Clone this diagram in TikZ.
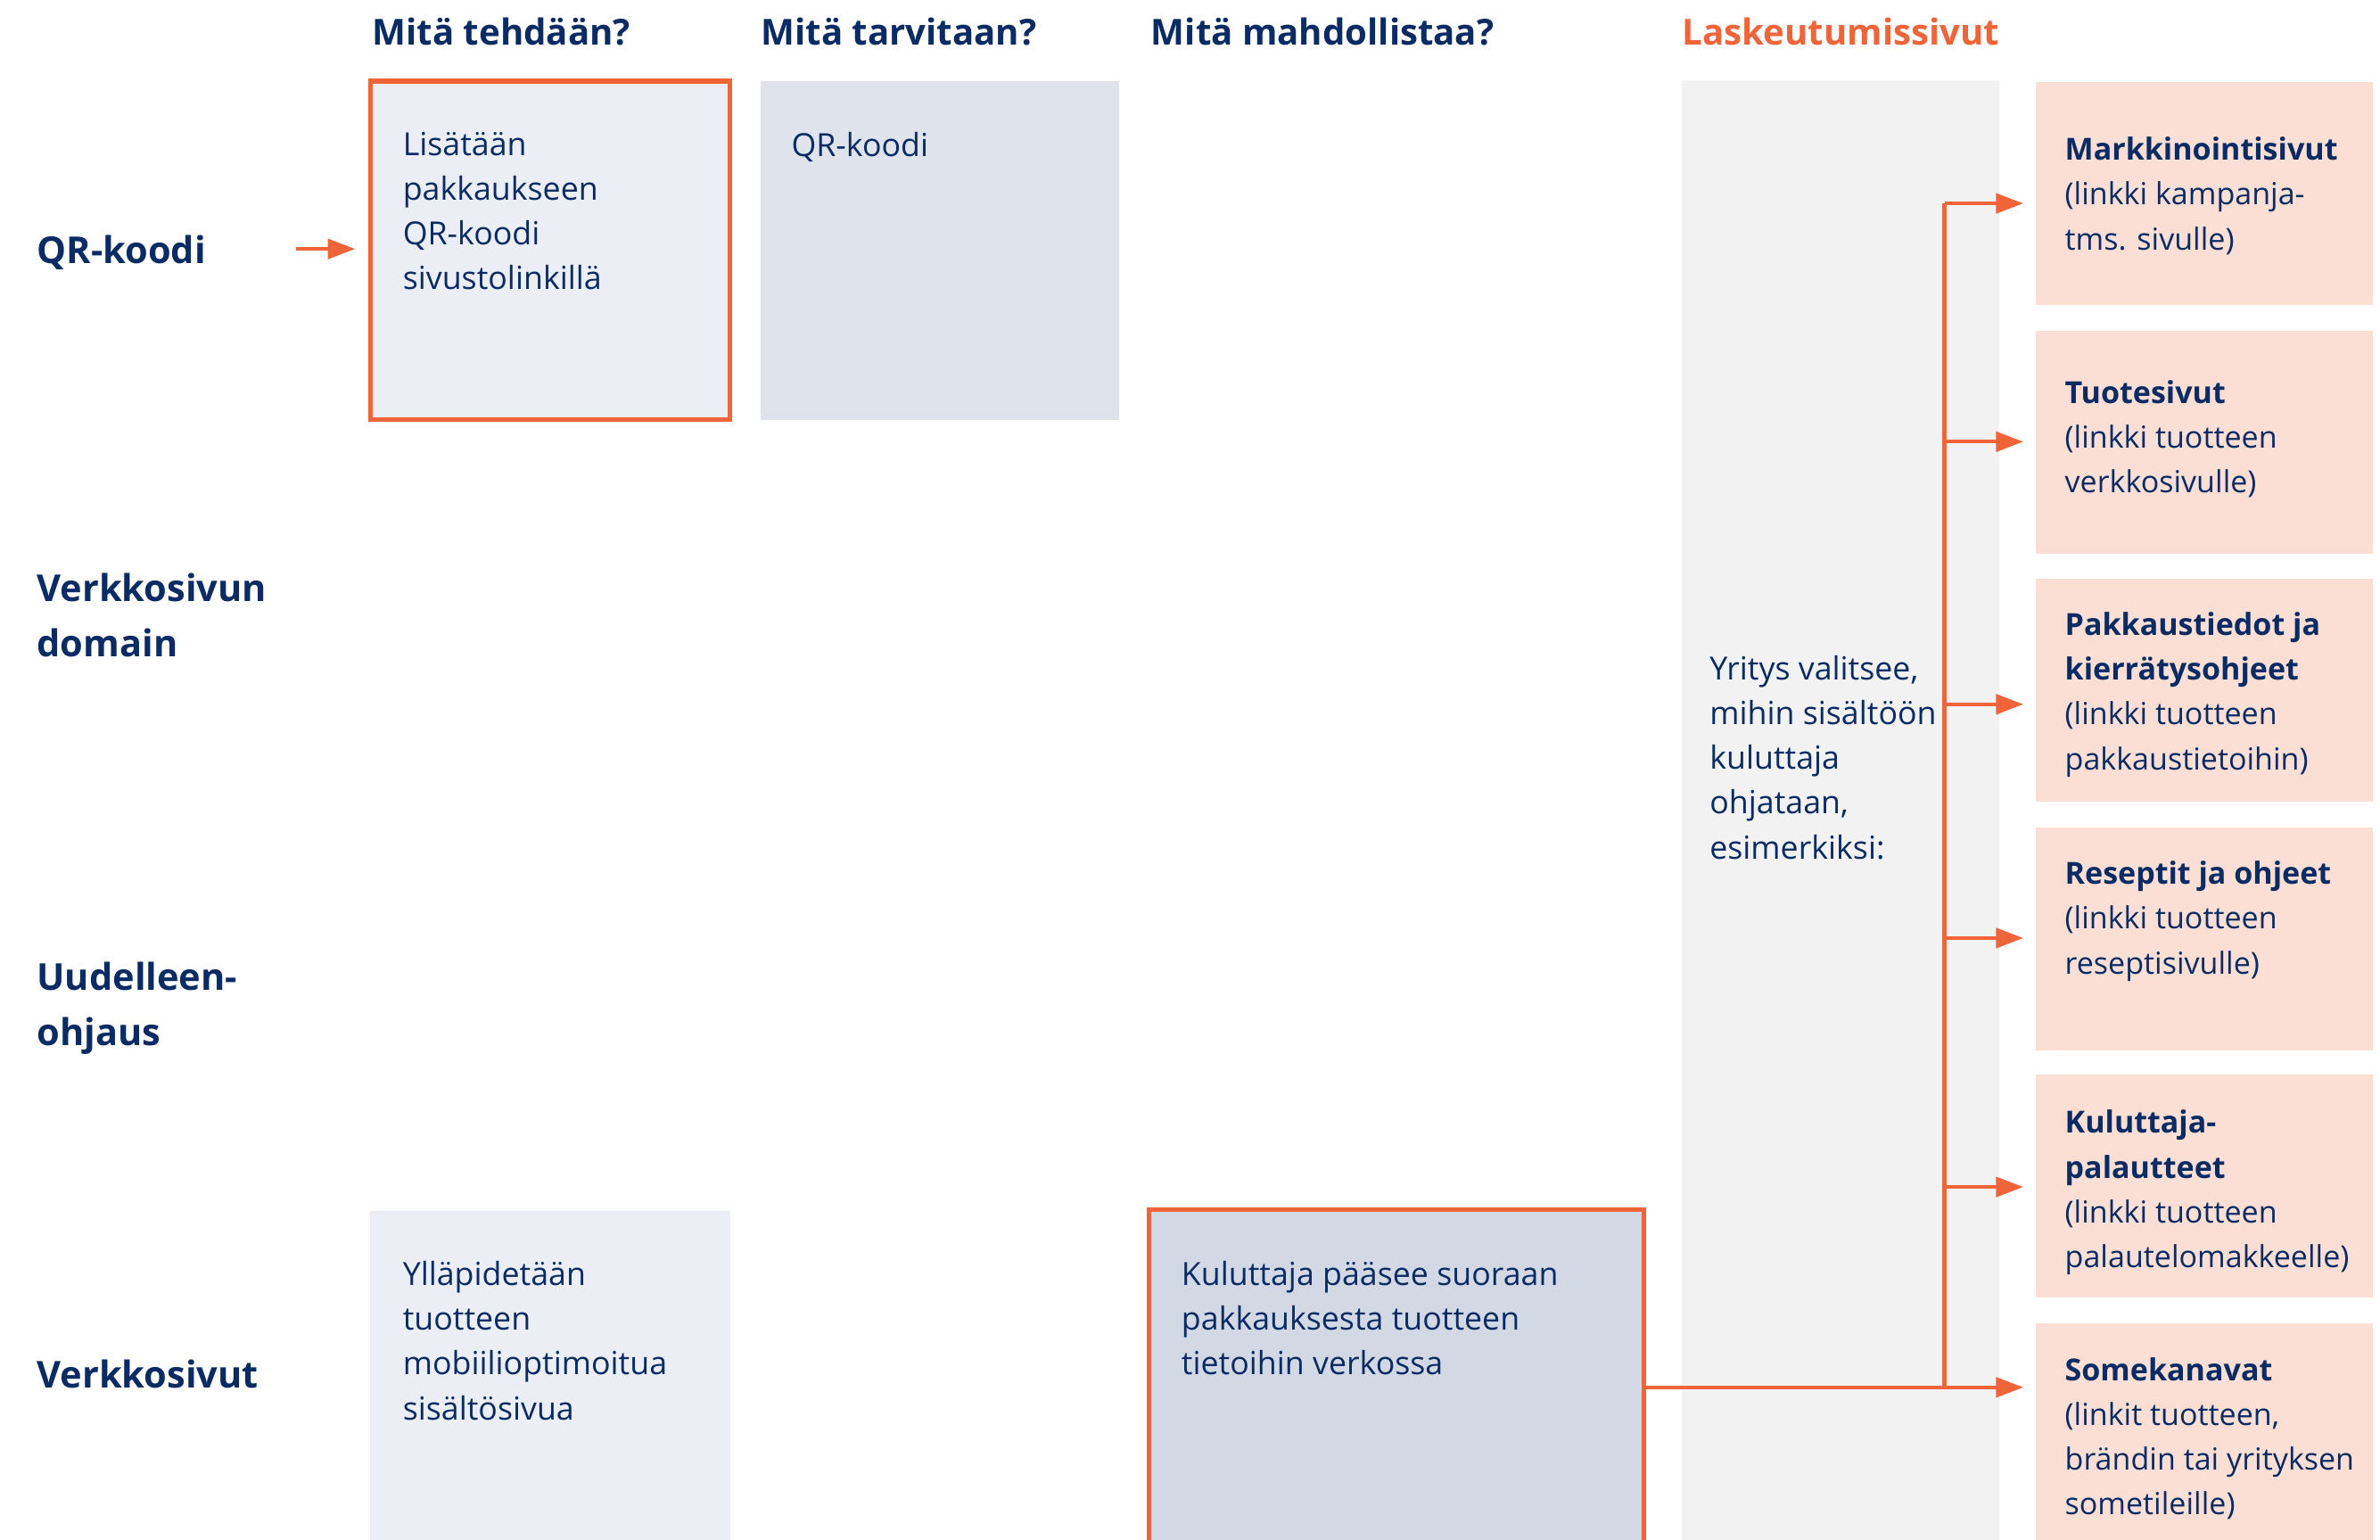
\documentclass[tikz,border=0pt]{standalone}
\usepackage{fontspec}
\setmainfont{Open Sans}
\usetikzlibrary{arrows.meta}
\definecolor{navy}{HTML}{0A2B63}
\definecolor{orng}{HTML}{F0643A}
\definecolor{fillA}{HTML}{EBEEF4}
\definecolor{fillB}{HTML}{DFE3EC}
\definecolor{fillC}{HTML}{D2D9E4}
\definecolor{grayc}{HTML}{F2F2F2}
\definecolor{pinkc}{HTML}{FBDFD5}
\tikzset{
  panel/.style={anchor=north west, inner sep=0, outer sep=0, draw=none},
  framed/.style={panel, draw=orng, line width=1.6pt},
  pinkbox/.style={panel, fill=pinkc, minimum width=111pt, minimum height=73.5pt},
  bodytxt/.style={anchor=north west, inner sep=0, align=left, text=navy,
    font=\fontsize{10.5}{14.75}\selectfont},
  pinktxt/.style={bodytxt, font=\fontsize{10}{14.75}\selectfont},
  headtxt/.style={anchor=north west, inner sep=0, align=left, text=navy,
    font=\fontsize{11.8}{18}\selectfont\bfseries},
  rowtxt/.style={headtxt, font=\fontsize{12.2}{18}\selectfont\bfseries},
  conn/.style={draw=orng, line width=1.2pt, -{Triangle[length=9pt,width=6.5pt]}},
  trunk/.style={draw=orng, line width=1.2pt},
}
\begin{document}
\begin{tikzpicture}[x=0.5pt,y=-0.5pt]
\useasboundingbox (0,0) rectangle (1568,1014);
\clip (0,0) rectangle (1568,1014);
% headers
\node[headtxt] (h1) at (245,11.6) {Mitä tehdään?};
\node[headtxt] (h2) at (501,11.6) {Mitä tarvitaan?};
\node[headtxt] (h3) at (758,11.6) {Mitä mahdollistaa?};
\node[headtxt, text=orng] (h4) at (1108,11.6) {Laskeutumissivut};
% row labels
\node[rowtxt] (r1) at (24,154.6) {QR-koodi};
\node[rowtxt] (r2) at (24,377.6) {Verkkosivun\\domain};
\node[rowtxt] (r3) at (24,633.6) {Uudelleen-\\ohjaus};
\node[rowtxt] (r4) at (24,895.6) {Verkkosivut};
% panels
\node[panel, fill=grayc, minimum width=104.5pt, minimum height=490pt] (gc) at (1108,53) {};
\node[framed, fill=fillA, minimum width=118.5pt, minimum height=111.5pt] (b1) at (244,53.5) {};
\node[panel, fill=fillB, minimum width=118pt, minimum height=111.5pt] (b2) at (501,53.5) {};
\node[panel, fill=fillA, minimum width=118.5pt, minimum height=120pt] (b3) at (244,798) {};
\node[framed, fill=fillC, minimum width=163pt, minimum height=117pt] (b4) at (757,797) {};
\node[pinkbox] (p1) at (1341,54) {};
\node[pinkbox] (p2) at (1341,218) {};
\node[pinkbox] (p3) at (1341,381) {};
\node[pinkbox] (p4) at (1341,545) {};
\node[pinkbox] (p5) at (1341,708) {};
\node[pinkbox, minimum height=80pt] (p6) at (1341,872) {};
% texts
\node[bodytxt] (t1) at (265,86.5) {Lisätään\\pakkaukseen\\QR-koodi\\sivustolinkillä};
\node[bodytxt] (t2) at (521,86.5) {QR-koodi};
\node[bodytxt] (t3) at (265,830.5) {Ylläpidetään\\tuotteen\\mobiilioptimoitua\\sisältösivua};
\node[bodytxt] (t4) at (778,830.5) {Kuluttaja pääsee suoraan\\pakkauksesta tuotteen\\tietoihin verkossa};
\node[bodytxt] (tg) at (1126,431.5) {Yritys valitsee,\\mihin sisältöön\\kuluttaja\\ohjataan,\\esimerkiksi:};
\node[pinktxt] (q1) at (1360,90) {\textbf{Markkinointisivut}\\(linkki kampanja-\\tms. sivulle)};
\node[pinktxt] (q2) at (1360,250) {\textbf{Tuotesivut}\\(linkki tuotteen\\verkkosivulle)};
\node[pinktxt] (q3) at (1360,403) {\textbf{Pakkaustiedot ja}\\\textbf{kierrätysohjeet}\\(linkki tuotteen\\pakkaustietoihin)};
\node[pinktxt] (q4) at (1360,567) {\textbf{Reseptit ja ohjeet}\\(linkki tuotteen\\reseptisivulle)};
\node[pinktxt] (q5) at (1360,731) {\textbf{Kuluttaja-}\\\textbf{palautteet}\\(linkki tuotteen\\palautelomakkeelle)};
\node[pinktxt] (q6) at (1360,894) {\textbf{Somekanavat}\\(linkit tuotteen,\\brändin tai yrityksen\\sometileille)};
% connectors
\coordinate (qa) at (195,164);
\draw[conn, shorten >=5pt] (qa) -- (qa -| b1.west);
\coordinate (j1) at (1281,134);
\coordinate (j2) at (1281,291);
\coordinate (j3) at (1281,464);
\coordinate (j4) at (1281,618);
\coordinate (j5) at (1281,782);
\coordinate (j6) at (1281,914);
\draw[trunk] (j1) -- (j6);
\draw[conn, shorten >=4pt] (j1) -- (j1 -| p1.west);
\draw[conn, shorten >=4pt] (j2) -- (j2 -| p2.west);
\draw[conn, shorten >=4pt] (j3) -- (j3 -| p3.west);
\draw[conn, shorten >=4pt] (j4) -- (j4 -| p4.west);
\draw[conn, shorten >=4pt] (j5) -- (j5 -| p5.west);
\draw[conn, shorten >=4pt] (b4.east) -- (b4.east -| p6.west);
\end{tikzpicture}
\end{document}
